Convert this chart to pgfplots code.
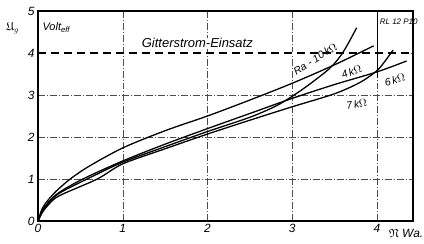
\documentclass[border=0pt]{standalone}
\usepackage{pgfplots}
\pgfplotsset{compat=1.18}
\usepackage{amssymb}
\usepackage{fontspec}
\setmainfont{Liberation Sans}
\begin{document}
\begin{tikzpicture}[x=1bp,y=1bp]
\path[use as bounding box] (-38bp,-23bp) rectangle (386bp,221bp);
\begin{axis}[
  at={(0,0)}, anchor=origin,
  scale only axis, width=375bp, height=210bp,
  xmin=0, xmax=4.425, ymin=0, ymax=5,
  axis line style={line width=1.6pt},
  xtick={0,1,2,3,4}, ytick={0,1,2,3,4,5},
  tick style={draw=none},
  ticklabel style={font=\itshape\fontsize{12}{12}\selectfont},
  /pgf/number format/assume math mode=true,
  grid=major,
  major grid style={black!70, line width=0.45pt, dash pattern=on 7pt off 2pt on 1pt off 2pt},
  clip=false,
]
\draw[black, line width=0.6pt] (axis cs:4,3.4) -- (axis cs:4,5);
\draw[white, line width=2pt] (axis cs:0.03,4) -- (axis cs:4.40,4);
\draw[black, line width=1.3pt, dash pattern=on 8pt off 5pt] (axis cs:0,4) -- (axis cs:4.425,4);
% 4 kOhm (top at low power)
\addplot[black, line width=1.3pt, smooth, tension=0.5] coordinates {
 (0,0) (0.05,0.3) (0.12,0.5) (0.22,0.72) (0.38,1.0) (0.6,1.3) (1,1.74) (1.5,2.15) (2,2.5) (2.5,2.88) (3,3.28) (3.5,3.72) (3.96,4.17)};
% 10 kOhm
\addplot[black, line width=1.3pt, smooth, tension=0.5] coordinates {
 (0,0) (0.05,0.22) (0.12,0.42) (0.25,0.66) (0.6,1.02) (1,1.4) (1.5,1.77) (2,2.13) (2.5,2.47) (2.8,2.73) (3.0,2.97) (3.2,3.25) (3.45,3.65) (3.6,4.02) (3.76,4.6)};
% 6 kOhm
\addplot[black, line width=1.3pt, smooth, tension=0.5] coordinates {
 (0,0) (0.05,0.24) (0.12,0.44) (0.25,0.68) (0.53,1.0) (1,1.43) (1.5,1.83) (2,2.2) (2.5,2.56) (3,2.92) (3.5,3.25) (4,3.55) (4.35,3.81)};
% 7 kOhm
\addplot[black, line width=1.3pt, smooth, tension=0.5] coordinates {
 (0,0) (0.05,0.2) (0.12,0.38) (0.25,0.6) (0.7,1.0) (1,1.36) (1.5,1.72) (2,2.07) (2.5,2.4) (3,2.72) (3.5,3.03) (3.8,3.3) (4.0,3.58) (4.1,3.82) (4.19,4.07)};
% texts
\node[font=\itshape\fontsize{13}{13}\selectfont, anchor=base, fill=white, inner sep=1pt] at (axis cs:1.88,4.12) {Gitterstrom-Einsatz};
\node[font=\itshape\fontsize{8}{8}\selectfont, anchor=west, inner sep=1pt] at (axis cs:4.02,4.74) {RL 12 P10};
\node[font=\itshape\fontsize{10.5}{10.5}\selectfont, rotate=32, inner sep=0pt] at (axis cs:3.27,3.86) {Ra - 10\,k$\Omega$};
\node[font=\itshape\fontsize{10.5}{10.5}\selectfont, rotate=20, inner sep=0pt] at (axis cs:3.7,3.55) {4\,k$\Omega$};
\node[font=\itshape\fontsize{10.5}{10.5}\selectfont, rotate=15, inner sep=0pt] at (axis cs:4.21,3.36) {6\,k$\Omega$};
\node[font=\itshape\fontsize{10.5}{10.5}\selectfont, rotate=10, inner sep=0pt] at (axis cs:3.76,2.79) {7\,k$\Omega$};
\node[font=\itshape\fontsize{11}{11}\selectfont, anchor=west, fill=white, inner sep=1pt] at (axis cs:0.04,4.6) {Volt$_{\mathit{eff}}$};
\node[font=\itshape\fontsize{12}{12}\selectfont] at (axis cs:-0.3,4.6) {$\mathfrak{U}_g$};
\node[font=\itshape\fontsize{12}{12}\selectfont, anchor=west] at (axis cs:4.1,-0.3) {$\mathfrak{N}$ Wa.};
\end{axis}
\end{tikzpicture}
\end{document}
